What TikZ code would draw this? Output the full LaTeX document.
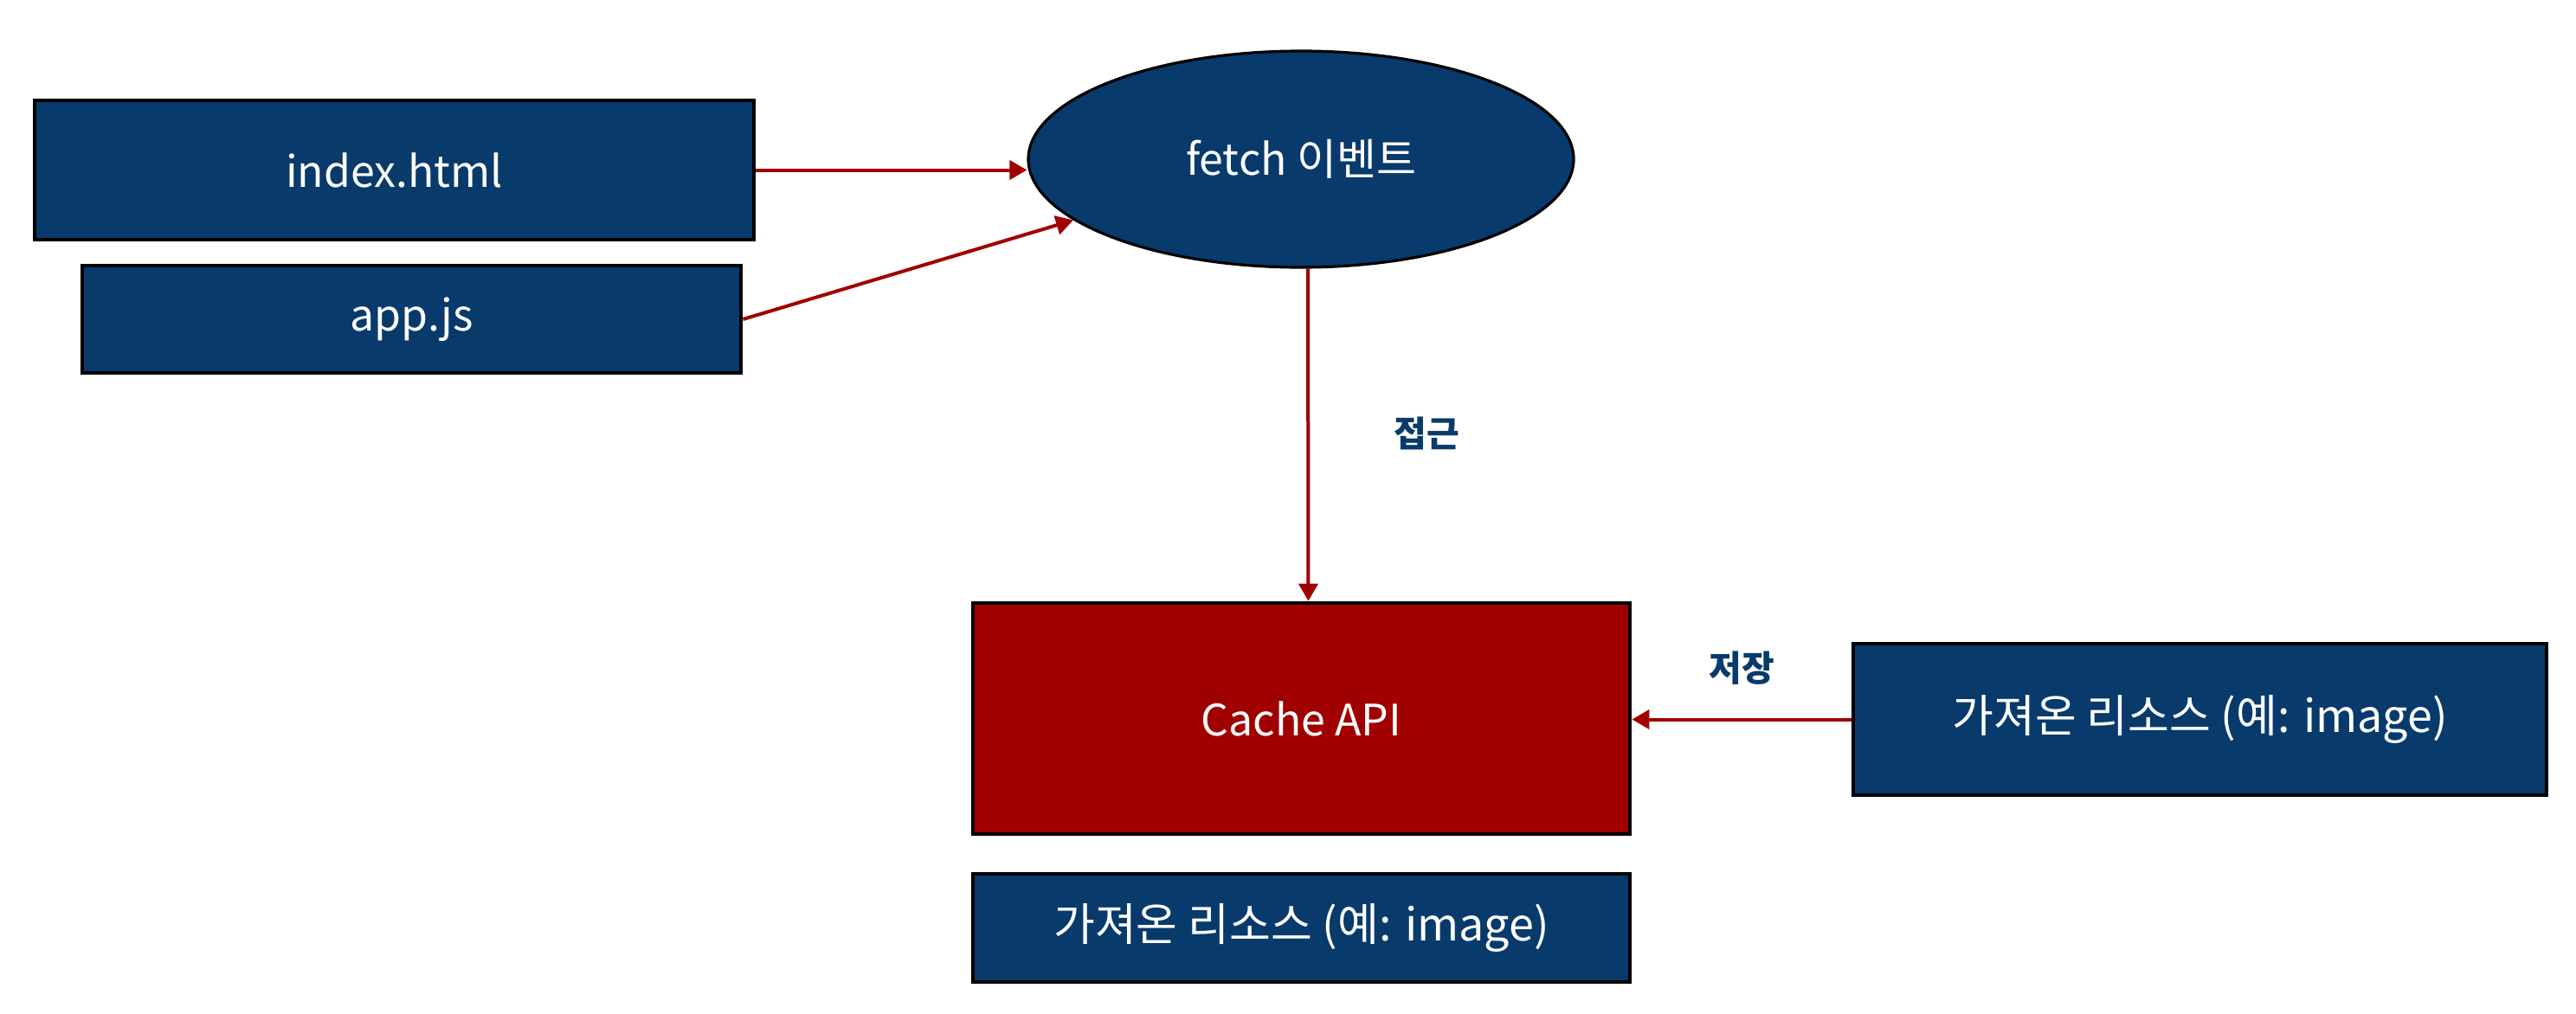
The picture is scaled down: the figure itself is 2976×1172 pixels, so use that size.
\documentclass[tikz,border=0pt]{standalone}
\usepackage{fontspec}
\setmainfont{Noto Sans CJK KR}
\usetikzlibrary{shapes.geometric,arrows.meta}
\definecolor{navy}{HTML}{083A6C}
\definecolor{dred}{HTML}{A00000}
\tikzset{
  box/.style={draw=black,line width=2.4pt,fill=navy,text=white,inner sep=0pt,font=\fontsize{25}{30}\selectfont},
  krbox/.style={box,font=\fontsize{26}{31}\selectfont},
  conn/.style={draw=dred,line width=2pt,-{Triangle[length=10pt,width=11pt]}},
  lbl/.style={text=navy,font=\fontsize{20.5}{24}\selectfont\bfseries}
}
\begin{document}
\begin{tikzpicture}[x=0.5pt,y=-0.5pt]
\useasboundingbox (0,0) rectangle (2976,1172);
\node[box,minimum width=415.5pt,minimum height=80.5pt] (idx) at (455.5,196.5) {index.html};
\node[box,minimum width=380.5pt,minimum height=62pt] (app) at (475.5,369) {app.js};
\node[box,ellipse,line width=1.6pt,minimum width=315pt,minimum height=125pt] (ev) at (1503,184) {fetch 이벤트};
\node[box,fill=dred,minimum width=379.5pt,minimum height=133.5pt] (cache) at (1503.5,830.5) {Cache API};
\node[krbox,minimum width=379.5pt,minimum height=62.5pt] (res2) at (1503.5,1072.5) {가져온 리소스 (예: image)};
\node[krbox,minimum width=400.5pt,minimum height=87.5pt] (res1) at (2541.5,831.5) {가져온 리소스 (예: image)};
\node[lbl] (l1) at (1648,501) {접근};
\node[lbl] (l2) at (2012,772) {저장};
\draw[conn] (idx.east) -- (idx.east -| ev.west);
\draw[conn] (app.east) -- (ev.195);
\draw[conn] ([xshift=4pt]ev.south) -- ([xshift=4pt]cache.north);
\draw[conn] (res1.west) -- (res1.west -| cache.east);
\end{tikzpicture}
\end{document}
